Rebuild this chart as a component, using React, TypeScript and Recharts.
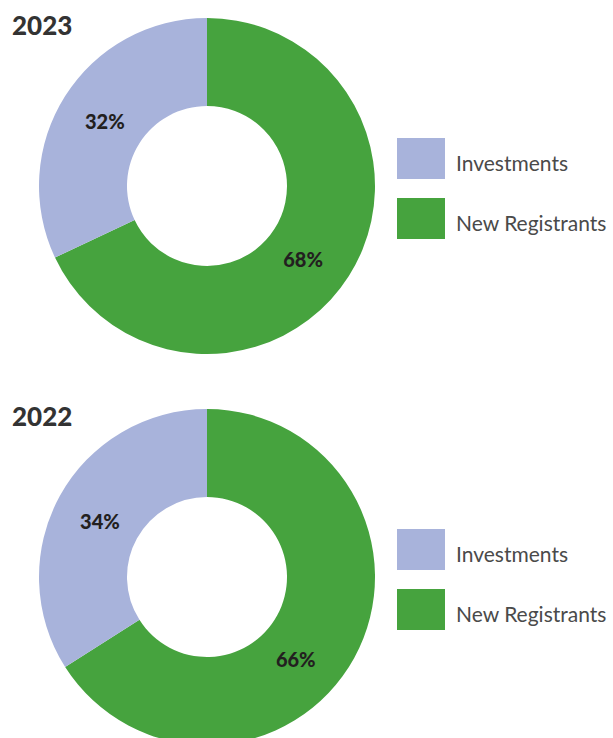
import React from 'react';
import { PieChart, Pie, Cell } from 'recharts';

const YEARS = ['2023', '2022'];
const CATEGORIES = ['New Registrants', 'Investments'];
const NEW_REGISTRANTS = [68, 66];
const INVESTMENTS = [32, 34];
const LEGEND_ORDER = ['Investments', 'New Registrants'];

const COLORS: Record<string, string> = {
  'New Registrants': '#46a33e',
  'Investments': '#a8b3db',
};

// the original labels aren't exactly centred in their slices, nudge the angle (degrees) per chart
const LABEL_SHIFT: Record<string, number[]> = {
  'New Registrants': [-5, -14],
  'Investments': [0, 1],
};

const RADIAN = Math.PI / 180;

const makeLabel = (index: number) => (props: any) => {
  const { cx, cy, midAngle, innerRadius, outerRadius, value, name } = props;
  const r = (innerRadius + outerRadius) / 2 - 3;
  const a = midAngle + (LABEL_SHIFT[name]?.[index] || 0);
  const x = cx + r * Math.cos(-a * RADIAN);
  const y = cy + r * Math.sin(-a * RADIAN);
  return (
    <text
      x={x}
      y={y}
      textAnchor="middle"
      dominantBaseline="central"
      fill="#231f20"
      style={{ fontFamily: 'Lato', fontWeight: 900, fontSize: 20 }}
    >
      {value}%
    </text>
  );
};

const YearDonut: React.FC<{ index: number; top: number; height: number }> = ({ index, top, height }) => {
  const data = CATEGORIES.map((name) => ({
    name,
    value: name === 'New Registrants' ? NEW_REGISTRANTS[index] : INVESTMENTS[index],
  }));

  return (
    <div style={{ position: 'absolute', left: 0, top, width: 613, height }}>
      <div
        style={{
          position: 'absolute',
          left: 12,
          top: 11,
          fontFamily: 'Lato',
          fontWeight: 900,
          fontSize: 26,
          color: '#333333',
          lineHeight: '28px',
        }}
      >
        {YEARS[index]}
      </div>
      <PieChart
        width={400}
        height={height}
        margin={{ top: 0, right: 0, bottom: 0, left: 0 }}
        style={{ position: 'absolute', left: 0, top: 0 }}
      >
        <Pie
          data={data}
          cx={207}
          cy={186}
          innerRadius={80}
          outerRadius={168}
          startAngle={90}
          endAngle={-270}
          dataKey="value"
          stroke="none"
          label={makeLabel(index)}
          labelLine={false}
          isAnimationActive={false}
        >
          {data.map((entry, i) => (
            <Cell key={`cell-${i}`} fill={COLORS[entry.name]} />
          ))}
        </Pie>
      </PieChart>
      <div style={{ position: 'absolute', left: 397, top: 138 }}>
        {LEGEND_ORDER.map((name) => (
          <div key={name} style={{ display: 'flex', alignItems: 'center', height: 41, marginBottom: 19 }}>
            <div style={{ width: 48, height: 41, background: COLORS[name] }} />
            <span
              style={{
                marginLeft: 11,
                position: 'relative',
                top: 4,
                fontFamily: 'Lato',
                fontSize: 21,
                color: '#4a4a4a',
                whiteSpace: 'nowrap',
              }}
            >
              {name}
            </span>
          </div>
        ))}
      </div>
    </div>
  );
};

export default function App() {
  return (
    <div style={{ position: 'absolute', left: 0, top: 0, width: 613, height: 738, overflow: 'hidden', background: '#fff' }}>
      <YearDonut index={0} top={0} height={380} />
      <YearDonut index={1} top={391} height={347} />
    </div>
  );
}
